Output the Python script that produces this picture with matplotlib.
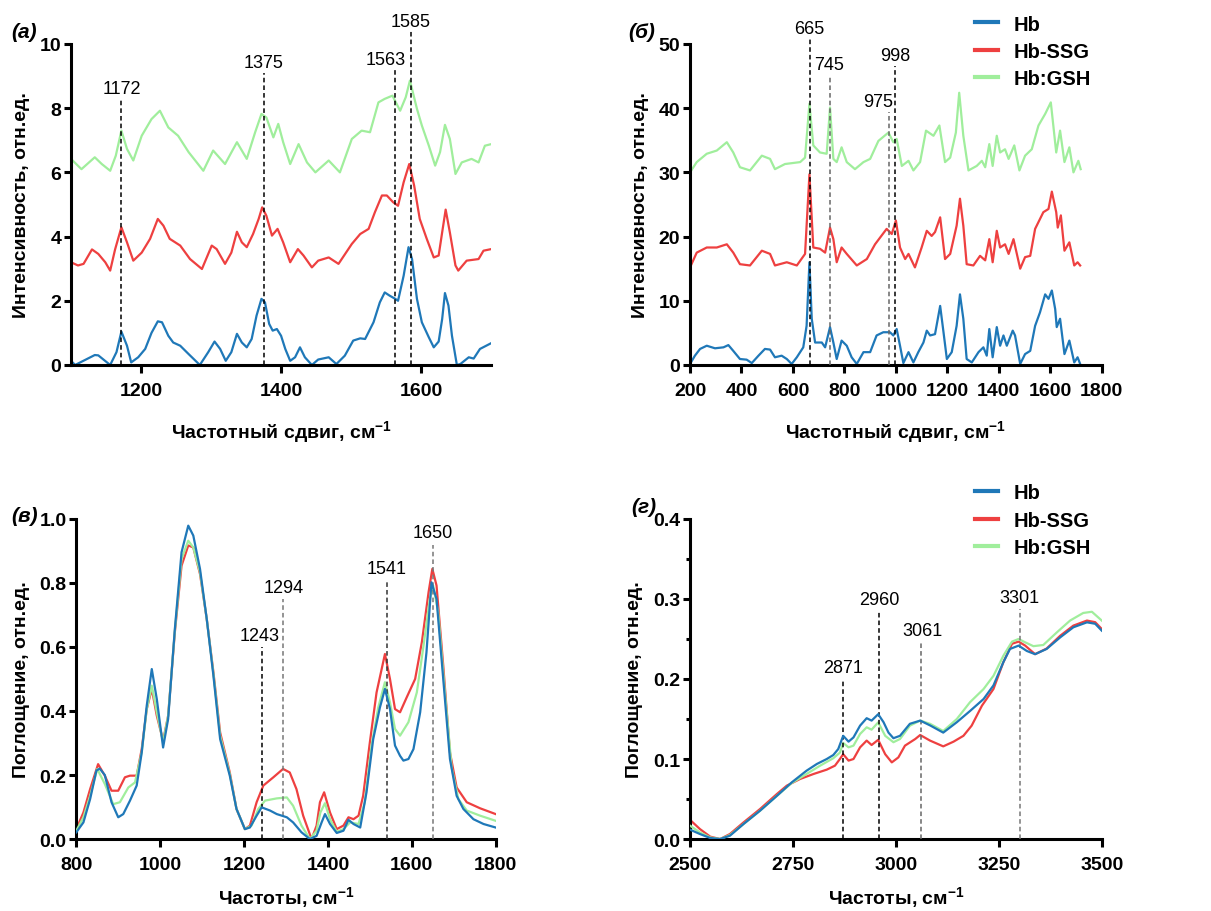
import numpy as np
import matplotlib
matplotlib.use('Agg')
import matplotlib.pyplot as plt

plt.rcParams['font.family'] = ['Liberation Sans', 'DejaVu Sans']
plt.rcParams['mathtext.fontset'] = 'custom'
plt.rcParams['mathtext.rm'] = 'Liberation Sans:bold'
plt.rcParams['mathtext.default'] = 'rm'

C_HB = '#1f78b8'
C_SSG = '#ee4040'
C_GSH = '#a0ee9c'
names = ['Hb', 'Hb-SSG', 'Hb:GSH']

# ---- panel (a): Raman, 1100-1700
a_hb_x = [1100, 1106, 1115, 1134, 1139, 1156, 1165, 1172, 1180, 1186, 1196, 1206, 1215, 1224, 1230,
          1239, 1246, 1256, 1268, 1284, 1296, 1305, 1313, 1321, 1329, 1337, 1344, 1351, 1358, 1365,
          1372, 1377, 1383, 1388, 1394, 1400, 1406, 1413, 1420, 1427, 1434, 1444, 1453, 1468, 1479,
          1491, 1503, 1513, 1520, 1532, 1541, 1548, 1555, 1563, 1567, 1575, 1582, 1587, 1594, 1601,
          1611, 1618, 1625, 1630, 1634, 1639, 1644, 1651, 1656, 1668, 1675, 1684, 1700]
a_hb_y = [0.13, 0.0, 0.1, 0.31, 0.3, 0.0, 0.4, 1.04, 0.6, 0.08, 0.24, 0.5, 1.0, 1.36, 1.33,
          0.91, 0.7, 0.6, 0.34, 0.0, 0.4, 0.73, 0.5, 0.13, 0.4, 0.97, 0.7, 0.55, 0.81, 1.54,
          2.06, 1.95, 1.28, 1.07, 1.12, 0.91, 0.5, 0.13, 0.24, 0.55, 0.24, 0.0, 0.17, 0.24, 0.03,
          0.29, 0.76, 0.83, 0.81, 1.33, 1.95, 2.26, 2.16, 2.06, 2.0, 2.78, 3.67, 3.3, 2.06, 1.33,
          0.86, 0.55, 0.73, 1.43, 2.24, 1.85, 0.91, 0.0, 0.03, 0.24, 0.2, 0.5, 0.68]
a_ssg_x = [1100, 1110, 1118, 1130, 1139, 1149, 1156, 1163, 1172, 1180, 1189, 1201, 1213, 1224, 1232,
           1241, 1256, 1270, 1287, 1301, 1308, 1320, 1329, 1337, 1344, 1351, 1360, 1368, 1373, 1379,
           1387, 1395, 1403, 1413, 1424, 1432, 1444, 1453, 1468, 1482, 1501, 1513, 1525, 1534, 1544,
           1551, 1560, 1567, 1575, 1583, 1590, 1598, 1608, 1618, 1625, 1630, 1635, 1641, 1649, 1653,
           1665, 1682, 1689, 1700]
a_ssg_y = [3.2, 3.1, 3.15, 3.6, 3.46, 3.2, 2.94, 3.6, 4.29, 3.82, 3.25, 3.5, 3.93, 4.55, 4.34,
           3.93, 3.72, 3.3, 2.99, 3.72, 3.61, 3.15, 3.5, 4.15, 3.82, 3.67, 4.08, 4.55, 4.91, 4.65,
           4.03, 4.24, 3.82, 3.2, 3.61, 3.41, 3.04, 3.25, 3.35, 3.15, 3.77, 4.08, 4.24, 4.76, 5.28,
           5.28, 5.07, 4.96, 5.69, 6.26, 5.59, 4.55, 3.93, 3.35, 3.41, 4.13, 4.84, 4.13, 3.1, 2.94,
           3.25, 3.3, 3.56, 3.61]
a_gsh_x = [1100, 1115, 1134, 1144, 1156, 1164, 1172, 1180, 1189, 1201, 1215, 1227, 1239, 1253, 1268,
           1289, 1303, 1320, 1337, 1351, 1363, 1372, 1379, 1389, 1396, 1403, 1413, 1425, 1437, 1449,
           1468, 1484, 1501, 1515, 1527, 1539, 1548, 1559, 1570, 1578, 1584, 1594, 1601, 1611, 1620,
           1627, 1634, 1641, 1649, 1658, 1672, 1682, 1691, 1700]
a_gsh_y = [6.42, 6.1, 6.47, 6.26, 6.05, 6.52, 7.3, 6.73, 6.37, 7.14, 7.66, 7.92, 7.4, 7.14, 6.63,
           6.05, 6.68, 6.26, 6.94, 6.42, 7.25, 7.82, 7.71, 7.09, 7.51, 6.94, 6.26, 6.88, 6.31, 6.0,
           6.37, 6.0, 7.04, 7.3, 7.25, 8.18, 8.29, 8.39, 7.92, 8.34, 8.86, 7.98, 7.46, 6.83, 6.21,
           6.63, 7.48, 7.04, 5.95, 6.31, 6.42, 6.31, 6.83, 6.88]
a_marks = [1172, 1375, 1563, 1585]
a_mark_top = [8.3, 9.1, 9.2, 10.4]

# ---- panel (б): Raman, 200-1800
b_hb_x = [200, 219, 239, 265, 297, 330, 349, 368, 394, 420, 440, 466, 491, 511, 530, 556, 576, 595,
          615, 640, 653, 664, 673, 686, 712, 725, 744, 757, 770, 789, 809, 828, 848, 874, 900, 925,
          951, 977, 990, 1003, 1016, 1029, 1049, 1068, 1087, 1107, 1120, 1133, 1152, 1172, 1185, 1198,
          1217, 1236, 1249, 1262, 1275, 1295, 1321, 1340, 1353, 1363, 1376, 1392, 1405, 1418, 1431,
          1454, 1463, 1483, 1502, 1522, 1541, 1560, 1580, 1593, 1606, 1619, 1625, 1638, 1655, 1674,
          1693, 1706, 1716]
b_hb_y = [0.16, 1.45, 2.5, 3.0, 2.6, 2.75, 3.1, 2.2, 0.93, 0.83, 0.3, 1.45, 2.5, 2.4, 1.2, 1.45, 0.93, 0.16,
          1.2, 2.75, 6.1, 16.0, 7.2, 3.5, 3.5, 2.75, 5.9, 3.5, 0.93, 3.8, 3.0, 1.2, 0.16, 2.0, 2.0, 4.6,
          5.1, 5.1, 4.6, 5.6, 3.0, 0.3, 2.0, 0.4, 2.0, 3.5, 5.35, 4.6, 4.8, 9.2, 5.1, 0.93,
          2.0, 6.1, 11.0, 7.2, 0.93, 0.4, 2.0, 2.75, 1.45, 5.6, 1.2, 5.9, 3.0, 4.6, 3.0,
          5.35, 4.6, 0.16, 1.7, 2.2, 6.1, 8.2, 11.0, 10.3, 11.6, 8.7, 5.9, 7.2, 1.7, 3.8,
          0.4, 1.2, 0.16]
b_ssg_x = [200, 226, 265, 304, 343, 368, 394, 433, 479, 511, 530, 576, 615, 647, 664, 679, 705, 725,
           744, 757, 770, 789, 809, 848, 887, 919, 964, 984, 1000, 1016, 1036, 1049, 1074, 1100, 1120,
           1139, 1152, 1172, 1191, 1211, 1236, 1249, 1262, 1275, 1301, 1327, 1347, 1363, 1376, 1392,
           1405, 1424, 1438, 1457, 1483, 1502, 1522, 1541, 1573, 1593, 1606, 1623, 1629, 1641, 1655,
           1674, 1693, 1706, 1716]
b_ssg_y = [15.2, 17.5, 18.3, 18.3, 18.8, 17.5, 15.7, 15.5, 17.8, 17.3, 15.5, 16.0, 15.5, 17.3, 29.7, 18.3, 18.1, 17.5,
           21.4, 19.6, 16.0, 18.3, 17.3, 15.5, 16.5, 18.8, 21.2, 20.4, 22.5, 18.3, 16.5, 17.3, 15.2, 18.3, 20.9,
           20.1, 20.7, 23.0, 16.5, 17.3, 21.7, 25.9, 21.7, 15.7, 15.5, 17.0, 16.3, 19.6, 16.0, 20.9,
           18.3, 18.8, 17.3, 19.6, 15.0, 16.8, 17.0, 21.2, 23.8, 24.3, 27.0, 23.8, 21.4, 23.3, 17.8,
           19.1, 15.5, 16.0, 15.5]
b_gsh_x = [200, 226, 265, 304, 343, 368, 394, 433, 479, 511, 530, 569, 628, 647, 664, 679, 705, 731,
           744, 757, 770, 789, 809, 841, 874, 900, 932, 971, 990, 1003, 1023, 1049, 1068, 1094, 1117,
           1146, 1169, 1191, 1211, 1233, 1246, 1262, 1282, 1314, 1334, 1347, 1363, 1376, 1392, 1405,
           1424, 1438, 1460, 1480, 1502, 1528, 1554, 1580, 1602, 1623, 1638, 1655, 1674, 1690, 1709,
           1718]
b_gsh_y = [30.0, 31.6, 32.9, 33.4, 34.7, 33.1, 30.8, 30.3, 32.6, 32.1, 30.5, 31.3, 31.6, 32.3, 40.7, 34.2, 33.1, 32.9,
           40.1, 32.1, 31.6, 33.9, 31.6, 30.5, 31.6, 32.1, 34.9, 36.2, 34.7, 35.2, 31.0, 31.8, 30.3, 31.6, 36.5,
           35.7, 37.3, 31.6, 32.3, 36.2, 42.4, 35.7, 30.3, 31.0, 31.8, 30.8, 34.4, 31.0, 35.7, 33.1,
           33.6, 32.1, 34.2, 30.3, 32.6, 33.6, 37.3, 39.1, 40.9, 33.1, 36.5, 31.6, 33.9, 30.0, 31.8,
           30.5]
b_marks = [665, 745, 975, 998]
b_mark_top = [50.8, 45.1, 39.4, 46.6]

# ---- panel (в): IR, 800-1800
c_hb_x = [800, 817, 833, 848, 856, 868, 884, 900, 912, 928, 944, 956, 968, 980, 992, 1007, 1019, 1035,
          1051, 1067, 1079, 1095, 1111, 1127, 1143, 1166, 1182, 1202, 1214, 1230, 1242, 1262, 1278,
          1302, 1317, 1337, 1357, 1373, 1385, 1393, 1405, 1421, 1437, 1449, 1461, 1477, 1492, 1508,
          1524, 1536, 1548, 1560, 1572, 1580, 1592, 1604, 1620, 1635, 1647, 1659, 1675, 1691, 1707,
          1723, 1747, 1771, 1800]
c_hb_y = [0.021, 0.052, 0.125, 0.214, 0.22, 0.2, 0.115, 0.068, 0.078, 0.12, 0.167, 0.27, 0.417, 0.531, 0.437,
          0.286, 0.375, 0.656, 0.896, 0.979, 0.948, 0.844, 0.688, 0.51, 0.312, 0.198, 0.094, 0.031, 0.036,
          0.073, 0.099, 0.089, 0.078, 0.068, 0.052, 0.021, 0.0, 0.01, 0.052, 0.078, 0.047, 0.019, 0.026,
          0.06, 0.047, 0.036, 0.146, 0.312, 0.411, 0.469, 0.406, 0.292, 0.26, 0.245, 0.25, 0.281, 0.396,
          0.583, 0.802, 0.75, 0.5, 0.25, 0.135, 0.094, 0.062, 0.047, 0.036]
c_ssg_x = [800, 817, 833, 852, 868, 884, 900, 916, 928, 944, 956, 968, 980, 992, 1007, 1019, 1035, 1051,
           1067, 1079, 1095, 1111, 1127, 1143, 1166, 1182, 1202, 1214, 1230, 1246, 1270, 1293, 1309,
           1325, 1341, 1361, 1373, 1381, 1391, 1405, 1421, 1437, 1449, 1461, 1473, 1484, 1500, 1516,
           1536, 1548, 1560, 1572, 1588, 1608, 1624, 1640, 1649, 1659, 1675, 1691, 1707, 1731, 1763,
           1800]
c_ssg_y = [0.031, 0.083, 0.156, 0.234, 0.198, 0.151, 0.151, 0.193, 0.198, 0.198, 0.281, 0.406, 0.469, 0.385,
           0.307, 0.385, 0.646, 0.854, 0.917, 0.911, 0.828, 0.688, 0.521, 0.333, 0.208, 0.094, 0.031,
           0.042, 0.115, 0.167, 0.193, 0.219, 0.208, 0.156, 0.073, 0.0, 0.042, 0.115, 0.146, 0.083,
           0.031, 0.042, 0.068, 0.062, 0.073, 0.135, 0.302, 0.458, 0.578, 0.5, 0.406, 0.396, 0.443,
           0.5, 0.615, 0.771, 0.844, 0.792, 0.542, 0.271, 0.161, 0.115, 0.096, 0.078]
c_gsh_x = [800, 817, 833, 850, 868, 888, 904, 924, 940, 956, 968, 980, 992, 1007, 1019, 1035, 1051, 1067,
           1079, 1095, 1111, 1127, 1143, 1166, 1182, 1202, 1218, 1234, 1250, 1278, 1302, 1317, 1337,
           1357, 1373, 1382, 1393, 1405, 1421, 1437, 1453, 1473, 1488, 1504, 1520, 1536, 1548, 1560,
           1572, 1592, 1612, 1628, 1643, 1651, 1663, 1679, 1695, 1711, 1731, 1763, 1800]
c_gsh_y = [0.026, 0.068, 0.135, 0.219, 0.172, 0.109, 0.115, 0.161, 0.177, 0.271, 0.406, 0.479, 0.396, 0.302,
           0.385, 0.651, 0.875, 0.932, 0.911, 0.833, 0.688, 0.516, 0.323, 0.203, 0.094, 0.031, 0.042,
           0.094, 0.12, 0.127, 0.13, 0.104, 0.042, 0.0, 0.026, 0.083, 0.112, 0.062, 0.023, 0.031, 0.052,
           0.047, 0.115, 0.292, 0.411, 0.49, 0.427, 0.344, 0.323, 0.365, 0.458, 0.604, 0.75, 0.792,
           0.708, 0.458, 0.224, 0.125, 0.089, 0.073, 0.057]
c_marks = [1243, 1294, 1541, 1650]
c_mark_top = [0.6, 0.75, 0.81, 0.92]

# ---- panel (г): IR, 2500-3500
d_hb_x = [2500, 2524, 2549, 2573, 2597, 2630, 2670, 2711, 2747, 2783, 2808, 2832, 2848, 2860, 2872, 2885,
          2897, 2913, 2929, 2941, 2957, 2970, 2982, 2994, 3010, 3034, 3059, 3083, 3115, 3148, 3180, 3213,
          3237, 3261, 3277, 3298, 3318, 3338, 3366, 3399, 3431, 3464, 3484, 3500]
d_hb_y = [0.0117, 0.0063, 0.0013, 0.0, 0.0042, 0.0188, 0.0354, 0.054, 0.0708, 0.0854, 0.0938, 0.1, 0.105,
          0.1125, 0.129, 0.1217, 0.127, 0.1417, 0.151, 0.148, 0.156, 0.146, 0.133, 0.126, 0.129, 0.144,
          0.148, 0.142, 0.133, 0.146, 0.16, 0.175, 0.192, 0.221, 0.2375, 0.2417, 0.235, 0.231, 0.2375,
          0.252, 0.2646, 0.2708, 0.269, 0.2604]
d_ssg_x = [2500, 2524, 2549, 2573, 2597, 2630, 2670, 2711, 2735, 2767, 2800, 2832, 2852, 2864, 2872, 2885,
           2897, 2913, 2929, 2941, 2957, 2974, 2990, 3006, 3022, 3047, 3059, 3083, 3115, 3140, 3164, 3184,
           3209, 3237, 3261, 3282, 3298, 3314, 3338, 3366, 3399, 3431, 3464, 3484, 3500]
d_ssg_y = [0.024, 0.0125, 0.003, 0.0, 0.0063, 0.0208, 0.0375, 0.0563, 0.0667, 0.075, 0.0813, 0.0867, 0.0917,
           0.1, 0.106, 0.098, 0.1, 0.1146, 0.123, 0.1175, 0.124, 0.106, 0.0958, 0.102, 0.1167, 0.125, 0.13,
           0.123, 0.1158, 0.1217, 0.129, 0.1417, 0.1667, 0.1875, 0.221, 0.244, 0.2467, 0.2417, 0.231,
           0.238, 0.254, 0.2667, 0.273, 0.271, 0.2625]
d_gsh_x = [2500, 2524, 2549, 2573, 2597, 2630, 2670, 2711, 2747, 2783, 2816, 2848, 2864, 2872, 2885, 2897,
           2913, 2929, 2941, 2957, 2974, 2994, 3010, 3034, 3059, 3083, 3115, 3148, 3180, 3213, 3237, 3261,
           3282, 3298, 3314, 3334, 3358, 3391, 3423, 3455, 3476, 3500]
d_gsh_y = [0.0167, 0.0083, 0.002, 0.0, 0.005, 0.0188, 0.0354, 0.054, 0.07, 0.0813, 0.0917, 0.101, 0.108,
           0.12, 0.1146, 0.1167, 0.1313, 0.1396, 0.1367, 0.1458, 0.129, 0.121, 0.125, 0.1417, 0.148, 0.144,
           0.135, 0.15, 0.171, 0.1875, 0.204, 0.229, 0.2467, 0.25, 0.2458, 0.241, 0.2425, 0.2583, 0.273,
           0.2825, 0.284, 0.273]
d_marks = [2871, 2960, 3061, 3301]
d_mark_top = [0.2, 0.285, 0.246, 0.2875]


def style_axis(ax, xlim, ylim, xticks, yticks, xlabel, ylabel, xpad):
    ax.set_xlim(xlim)
    ax.set_ylim(ylim)
    ax.set_xticks(xticks)
    ax.set_yticks(yticks)
    for s in ['top', 'right']:
        ax.spines[s].set_visible(False)
    for s in ['left', 'bottom']:
        ax.spines[s].set_linewidth(2.2)
    ax.tick_params(axis='x', width=2.2, length=6, labelsize=14, pad=6)
    ax.tick_params(axis='y', width=2.2, length=5, labelsize=14, pad=2)
    for lab in ax.get_xticklabels() + ax.get_yticklabels():
        lab.set_fontweight('bold')
    ax.set_xlabel(xlabel, fontsize=14, fontweight='bold', labelpad=xpad)
    ax.set_ylabel(ylabel, fontsize=14, fontweight='bold', labelpad=7)


def marks(ax, xs, tops, colors, dy, offs):
    for x, t, c, o in zip(xs, tops, colors, offs):
        ax.plot([x, x], [0, t], color=c, lw=1.1, ls=(0, (3, 2)), clip_on=False, zorder=3)
        ax.text(x + o, t + dy, str(x), ha='center', va='bottom', fontsize=13, clip_on=False)


fig = plt.figure(figsize=(12.11, 9.12), dpi=100)
ax_a = fig.add_axes([0.0586, 0.5987, 0.347, 0.352])
ax_b = fig.add_axes([0.5698, 0.5987, 0.340, 0.352])
ax_c = fig.add_axes([0.063, 0.0789, 0.3463, 0.351])
ax_d = fig.add_axes([0.5698, 0.0789, 0.340, 0.351])

raman_label = 'Частотный сдвиг, см$^{-1}$'
ir_label = 'Частоты, см$^{-1}$'
lw = 1.6

# (a)
ax_a.plot(a_hb_x, a_hb_y, color=C_HB, lw=lw)
ax_a.plot(a_ssg_x, a_ssg_y, color=C_SSG, lw=lw)
ax_a.plot(a_gsh_x, a_gsh_y, color=C_GSH, lw=lw)
style_axis(ax_a, (1100, 1700), (0, 10), [1200, 1400, 1600], [0, 2, 4, 6, 8, 10],
           raman_label, 'Интенсивность, отн.ед.', 14)
marks(ax_a, a_marks, a_mark_top, ['k', 'k', 'k', 'k'], 0.05, [0, 0, -14, 0])

# (б)
lines = []
lines += ax_b.plot(b_hb_x, b_hb_y, color=C_HB, lw=lw)
lines += ax_b.plot(b_ssg_x, b_ssg_y, color=C_SSG, lw=lw)
lines += ax_b.plot(b_gsh_x, b_gsh_y, color=C_GSH, lw=lw)
style_axis(ax_b, (200, 1800), (0, 50), np.arange(200, 1801, 200), [0, 10, 20, 30, 40, 50],
           raman_label, 'Интенсивность, отн.ед.', 14)
marks(ax_b, b_marks, b_mark_top, ['k', '#666666', '#666666', 'k'], 0.3, [0, -4, -46, 0])

# (в)
ax_c.plot(c_hb_x, c_hb_y, color=C_HB, lw=lw, zorder=4)
ax_c.plot(c_ssg_x, c_ssg_y, color=C_SSG, lw=lw, zorder=2)
ax_c.plot(c_gsh_x, c_gsh_y, color=C_GSH, lw=lw, zorder=3)
style_axis(ax_c, (800, 1800), (0, 1.0), np.arange(800, 1801, 200), np.arange(0, 1.01, 0.2),
           ir_label, 'Поглощение, отн.ед.', 8)
ax_c.set_yticklabels(['%.1f' % v for v in np.arange(0, 1.01, 0.2)], fontweight='bold')
marks(ax_c, c_marks, c_mark_top, ['k', '#777777', '#333333', '#777777'], 0.01, [-5, 0, 0, 0])

# (г)
ax_d.plot(d_hb_x, d_hb_y, color=C_HB, lw=lw, zorder=4)
ax_d.plot(d_ssg_x, d_ssg_y, color=C_SSG, lw=lw, zorder=2)
ax_d.plot(d_gsh_x, d_gsh_y, color=C_GSH, lw=lw, zorder=3)
style_axis(ax_d, (2500, 3500), (0, 0.4), [2500, 2750, 3000, 3250, 3500], np.arange(0, 0.41, 0.1),
           ir_label, 'Поглощение, отн.ед.', 8)
ax_d.set_yticklabels(['%.1f' % v for v in np.arange(0, 0.41, 0.1)], fontweight='bold')
ax_d.set_yticks(np.arange(0.05, 0.4, 0.1), minor=True)
ax_d.tick_params(axis='y', which='minor', width=2.2, length=3)
marks(ax_d, d_marks, d_mark_top, ['k', 'k', '#666666', '#777777'], 0.004, [0, 0, 3, 0])

# legends
for y0 in [0.994, 0.480]:
    lg = fig.legend(lines, names, loc='upper left', bbox_to_anchor=(0.797, y0), frameon=False,
                    prop={'weight': 'bold', 'size': 14.5}, handlelength=1.15, handletextpad=0.75,
                    labelspacing=0.42, borderpad=0)
    for h in lg.legend_handles:
        h.set_linewidth(3)

# panel letters
fig.text(0.009, 0.958, '(a)', fontsize=15, fontweight='bold', style='italic')
fig.text(0.519, 0.958, '(б)', fontsize=15, fontweight='bold', style='italic')
fig.text(0.009, 0.428, '(в)', fontsize=15, fontweight='bold', style='italic')
fig.text(0.521, 0.437, '(г)', fontsize=15, fontweight='bold', style='italic')

fig.savefig('out.png', dpi=100)
